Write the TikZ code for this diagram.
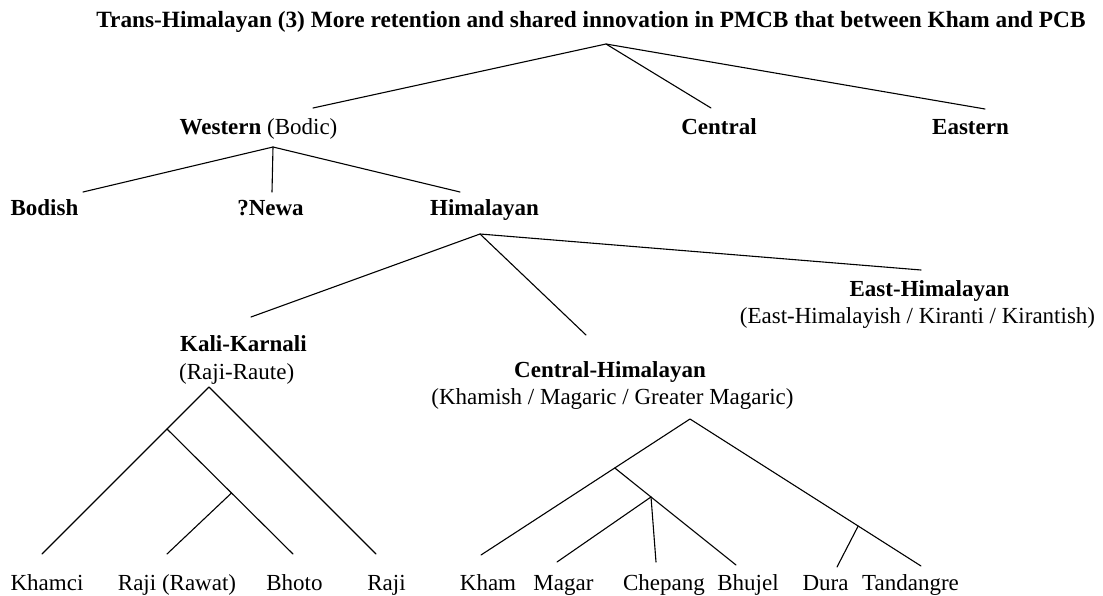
\documentclass[tikz,border=0pt]{standalone}
\usepackage{fontspec}
\setmainfont{Liberation Serif}
\usetikzlibrary{calc}
\begin{document}
\begin{tikzpicture}[x=1pt,y=-1pt,
  lbl/.style={inner sep=0pt,anchor=base,font=\fontsize{23}{27}\selectfont},
  lblw/.style={lbl,anchor=base west},
  grp/.style={lbl,font=\fontsize{23}{27}\selectfont\bfseries},
  grpw/.style={grp,anchor=base west},
  branch/.style={line width=1.1pt,line cap=round,line join=round}]
\useasboundingbox (0,0) rectangle (1103,596);

% heading
\node[grp,font=\fontsize{23.3}{27}\selectfont\bfseries] (title) at (591,28) {Trans-Himalayan (3) More retention and shared innovation in PMCB that between Kham and PCB};

% first level
\node[lbl] (western) at (258.5,135) {\textbf{Western} (Bodic)};
\node[grp] (central) at (719,135) {Central};
\node[grp] (eastern) at (970.5,135) {Eastern};

% Western subgroups
\node[grp] (bodish) at (44.5,215) {Bodish};
\node[grp] (newa) at (270.5,215) {?Newa};
\node[grp] (himalayan) at (484.5,215) {Himalayan};

% Himalayan subgroups
\node[grpw] (kalikarnali) at (180,351) {Kali-Karnali};
\node[lblw] (rajiraute) at (179,379) {(Raji-Raute)};
\node[grp] (centralhim) at (610,377) {Central-Himalayan};
\node[lbl] (khamish) at (612.5,404) {(Khamish / Magaric / Greater Magaric)};
\node[grp] (easthim) at (929.5,296) {East-Himalayan};
\node[lbl] (kiranti) at (917.5,323) {(East-Himalayish / Kiranti / Kirantish)};

% languages
\node[lbl] (khamci) at (47,590) {Khamci};
\node[lbl] (rajirawat) at (177,590) {Raji (Rawat)};
\node[lbl] (bhoto) at (294.5,590) {Bhoto};
\node[lbl] (raji) at (386.5,590) {Raji};
\node[lbl] (kham) at (488,590) {Kham};
\node[lbl] (magar) at (563.5,590) {Magar};
\node[lbl] (chepang) at (664,590) {Chepang};
\node[lbl] (bhujel) at (748,590) {Bhujel};
\node[lbl] (dura) at (825.5,590) {Dura};
\node[lbl] (tandangre) at (910.5,590) {Tandangre};

% branch points and branch ends
\coordinate (root) at (606,44);
\coordinate (r-w) at (313,108);
\coordinate (r-c) at (711,108);
\coordinate (r-e) at (985,109);

\coordinate (w) at (273,147);
\coordinate (w-b) at (83,192);
\coordinate (w-n) at (272,192);
\coordinate (w-h) at (460,192);

\coordinate (h) at (480,234);
\coordinate (h-kk) at (251,317);
\coordinate (h-ch) at (586,335);
\coordinate (h-eh) at (921,270);

\coordinate (kk) at (209,387);
\coordinate (e-khamci) at (42,554);
\coordinate (e-rajirawat) at (167,554);
\coordinate (e-bhoto) at (293,554);
\coordinate (e-raji) at (376,554);
\coordinate (kk1) at ($(kk)!0.2515!(e-khamci)$);
\coordinate (kk2) at ($(kk1)!0.512!(e-bhoto)$);

\coordinate (ch) at (690,419);
\coordinate (e-kham) at (481,555);
\coordinate (e-magar) at (557,562);
\coordinate (e-chepang) at (656,562);
\coordinate (e-bhujel) at (736,565);
\coordinate (e-dura) at (837,567);
\coordinate (e-tandangre) at (921,566);
\coordinate (ch1) at ($(ch)!0.36!(e-kham)$);
\coordinate (ch2) at ($(ch1)!0.299!(e-bhujel)$);
\coordinate (ch3) at ($(ch)!0.728!(e-tandangre)$);

% Trans-Himalayan
\draw[branch] (r-w) -- (root) -- (r-e);
\draw[branch] (root) -- (r-c);

% Western
\draw[branch] (w-b) -- (w) -- (w-h);
\draw[branch] (w) -- (w-n);

% Himalayan
\draw[branch] (h-kk) -- (h) -- (h-eh);
\draw[branch] (h) -- (h-ch);

% Kali-Karnali
\draw[branch] (e-khamci) -- (kk) -- (e-raji);
\draw[branch] (kk1) -- (e-bhoto);
\draw[branch] (kk2) -- (e-rajirawat);

% Central-Himalayan
\draw[branch] (e-kham) -- (ch) -- (e-tandangre);
\draw[branch] (ch1) -- (e-bhujel);
\draw[branch] (ch2) -- (e-magar);
\draw[branch] (ch2) -- (e-chepang);
\draw[branch] (ch3) -- (e-dura);
\end{tikzpicture}
\end{document}
